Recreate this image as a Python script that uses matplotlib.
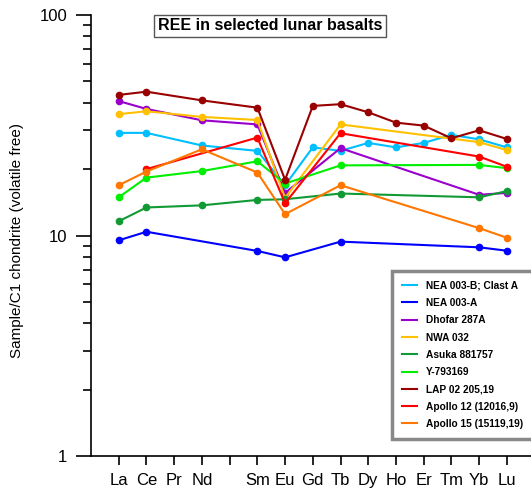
import numpy as np
import matplotlib
matplotlib.use("Agg")
import matplotlib.pyplot as plt
from matplotlib.ticker import LogLocator, NullFormatter, FixedLocator

plt.rcParams['font.family'] = ['Liberation Sans', 'DejaVu Sans']

## REE patterns, chondrite normalised
elements = ["La", "Ce", "Pr", "Nd", "Pm", "Sm", "Eu", "Gd", "Tb", "Dy", "Ho", "Er", "Tm", "Yb", "Lu"]
tick_labels = ["La", "Ce", "Pr", "Nd", "", "Sm", "Eu", "Gd", "Tb", "Dy", "Ho", "Er", "Tm", "Yb", "Lu"]
N = None

nea003b = [29.2, 29.2, N, 25.6, N, 24.2, 16.9, 25.1, 24.2, 26.3, 25.1, 26.3, 28.6, 27.3, 25.1]
nea003a = [9.51, 10.4, N, N, N, 8.51, 7.96, N, 9.38, N, N, N, N, 8.84, 8.53]
dhofar287a = [40.7, 37.5, N, 33.3, N, 31.9, 15.6, N, 24.9, N, N, N, N, 15.3, 15.6]
nwa032 = [35.5, 36.6, N, 34.5, N, 33.4, 14.8, N, 31.9, N, N, N, N, 26.5, 24.4]
asuka881757 = [11.6, 13.4, N, 13.7, N, 14.5, 14.6, N, 15.5, N, N, N, N, 14.9, 15.9]
y793169 = [14.9, 18.3, N, 19.6, N, 21.7, 17.2, N, 20.8, N, N, N, N, 20.9, 20.2]
lap02205 = [43.4, 44.9, N, 41.0, N, 38.0, 17.9, 38.7, 39.4, 36.2, 32.5, 31.5, 27.6, 30.0, 27.4]
apollo12 = [N, 20.0, N, N, N, 27.8, 14.0, N, 29.1, N, N, N, N, 22.8, 20.5]
apollo15 = [16.9, 19.5, N, 24.6, N, 19.3, 12.5, N, 16.9, N, N, N, N, 10.8, 9.77]

series = [
    ("NEA 003-B; Clast A", nea003b, "#00BFFF"),
    ("NEA 003-A", nea003a, "#0000FF"),
    ("Dhofar 287A", dhofar287a, "#9900CC"),
    ("NWA 032", nwa032, "#FFC000"),
    ("Asuka 881757", asuka881757, "#119933"),
    ("Y-793169", y793169, "#00EE00"),
    ("LAP 02 205,19", lap02205, "#990000"),
    ("Apollo 12 (12016,9)", apollo12, "#FF0000"),
    ("Apollo 15 (15119,19)", apollo15, "#FF7700"),
]

fig = plt.figure(figsize=(5.31, 4.93), dpi=100)
W, H = 531, 493
ax = fig.add_axes([91 / W, 1 - 456 / H, 1 - 91 / W, (456 - 15) / H])

x = np.arange(len(elements))
handles = []
for name, vals, col in series:
    v = np.array([np.nan if a is None else a for a in vals], dtype=float)
    m = ~np.isnan(v)
    ax.plot(x[m], v[m], color=col, lw=1.5, marker="o", ms=4.5, zorder=3)
    h, = ax.plot([], [], color=col, lw=1.5, label=name)
    handles.append(h)

ax.set_yscale("log")
ax.set_ylim(1, 100)
ax.set_xlim(-1, 14.87)
ax.spines["top"].set_visible(False)
ax.spines["right"].set_visible(False)
ax.spines["left"].set_linewidth(1.2)
ax.spines["bottom"].set_linewidth(1.2)

ax.xaxis.set_major_locator(FixedLocator(x))
ax.set_xticklabels(tick_labels, fontsize=12)
ax.tick_params(axis="x", direction="out", length=6.5, width=1.2, pad=6)
ax.yaxis.set_minor_locator(LogLocator(base=10, subs=np.arange(2, 10), numticks=20))
ax.yaxis.set_minor_formatter(NullFormatter())
ax.set_yticks([1, 10, 100])
ax.set_yticklabels(["1", "10", "100"], fontsize=12)
ax.tick_params(axis="y", which="major", direction="out", length=11, width=1.2, pad=6)
ax.tick_params(axis="y", which="minor", direction="out", length=6, width=1.2)

fig.text(17 / W, 1 - 240 / H, "Sample/C1 chondrite (volatile free)", rotation=90,
         ha="center", va="center", fontsize=11)

fig.text(270 / W, 1 - 26 / H, "REE in selected lunar basalts", ha="center", va="center",
         fontsize=11.5, fontweight="bold",
         bbox=dict(boxstyle="square,pad=0.25", fc="white", ec="#555555", lw=1))

leg = fig.legend(handles=handles, loc="upper left",
                 bbox_to_anchor=(392 / W, 1 - 271 / H),
                 prop=dict(size=7.3, weight="bold"), fancybox=False,
                 handlelength=1.55, labelspacing=0.72, borderpad=0.95, handletextpad=0.85,
                 borderaxespad=0, framealpha=1)
leg.get_frame().set_edgecolor("#888888")
leg.get_frame().set_linewidth(2.5)

fig.savefig("out.png", dpi=100)
